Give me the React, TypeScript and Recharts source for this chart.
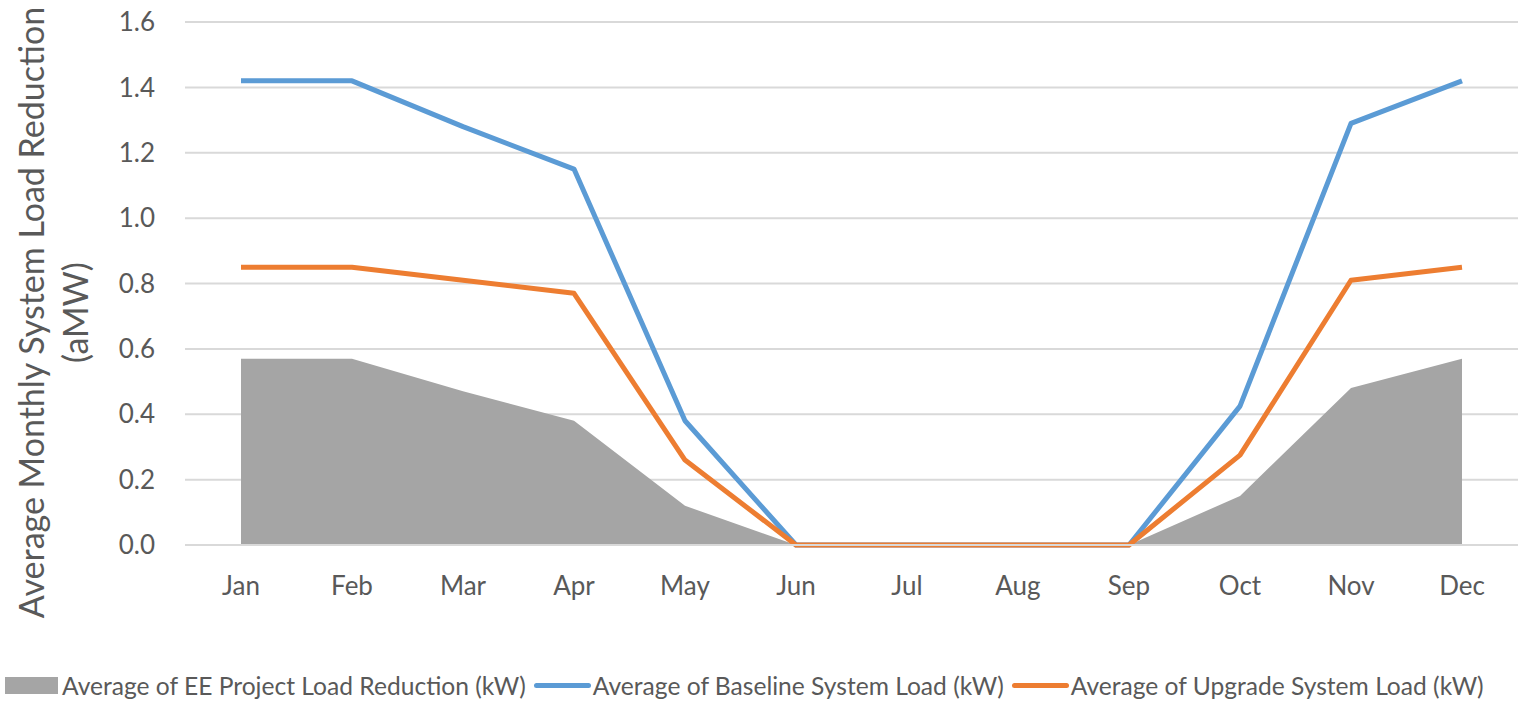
import { ComposedChart, Area, Line, XAxis, YAxis, CartesianGrid } from 'recharts'

const months = ['Jan', 'Feb', 'Mar', 'Apr', 'May', 'Jun', 'Jul', 'Aug', 'Sep', 'Oct', 'Nov', 'Dec']
const eeReduction = [0.57, 0.57, 0.47, 0.38, 0.12, 0, 0, 0, 0, 0.15, 0.48, 0.57]
const baselineLoad = [1.42, 1.42, 1.28, 1.15, 0.38, 0, 0, 0, 0, 0.425, 1.29, 1.42]
const upgradeLoad = [0.85, 0.85, 0.81, 0.77, 0.26, 0, 0, 0, 0, 0.275, 0.81, 0.85]
const yTicks = [0, 0.2, 0.4, 0.6, 0.8, 1.0, 1.2, 1.4, 1.6]

const data = months.map((m, i) => ({
  month: m,
  ee: eeReduction[i],
  baseline: baselineLoad[i],
  upgrade: upgradeLoad[i],
}))

const FONT = 'Lato, "Open Sans", sans-serif'
const TEXT = '#595959'

function YLabel(props: any) {
  const { viewBox } = props
  const cy = viewBox.y + viewBox.height / 2 + 29
  return (
    <g>
      <text
        x={30}
        y={cy}
        transform={`rotate(-90, 30, ${cy})`}
        textAnchor="middle"
        dominantBaseline="central"
        fill={TEXT}
        fontSize={34}
        fontFamily={FONT}
      >
        Average Monthly System Load Reduction
      </text>
      <text
        x={74}
        y={cy}
        transform={`rotate(-90, 74, ${cy})`}
        textAnchor="middle"
        dominantBaseline="central"
        fill={TEXT}
        fontSize={34}
        fontFamily={FONT}
      >
        (aMW)
      </text>
    </g>
  )
}

export default function App() {
  return (
    <div style={{ position: 'absolute', left: 0, top: 0, width: 1518, height: 701, background: 'white' }}>
      <ComposedChart width={1518} height={701} data={data} margin={{ top: 22, right: 0, left: 0, bottom: 0 }}>
        <CartesianGrid vertical={false} stroke="#d9d9d9" strokeWidth={2} />
        <XAxis
          dataKey="month"
          height={156}
          padding={{ left: 56, right: 56 }}
          tickSize={0}
          tickMargin={32}
          axisLine={{ stroke: '#d9d9d9', strokeWidth: 2 }}
          tickLine={false}
          tick={{ fill: TEXT, fontSize: 26, fontFamily: FONT }}
          interval={0}
        />
        <YAxis
          width={185}
          domain={[0, 1.6]}
          ticks={yTicks}
          tickFormatter={(v: number) => v.toFixed(1)}
          axisLine={false}
          tickLine={false}
          tickSize={0}
          tickMargin={30}
          tick={{ fill: TEXT, fontSize: 26, fontFamily: FONT }}
          label={<YLabel />}
        />
        <Area
          type="linear"
          dataKey="ee"
          fill="#a5a5a5"
          fillOpacity={1}
          stroke="none"
          isAnimationActive={false}
        />
        <Line
          type="linear"
          dataKey="baseline"
          stroke="#5b9bd5"
          strokeWidth={5}
          dot={false}
          strokeLinejoin="round"
          isAnimationActive={false}
        />
        <Line
          type="linear"
          dataKey="upgrade"
          stroke="#ed7d31"
          strokeWidth={5}
          dot={false}
          strokeLinejoin="round"
          isAnimationActive={false}
        />
      </ComposedChart>

      {/* Legend */}
      <div
        style={{
          position: 'absolute',
          left: 5,
          top: 671,
          display: 'flex',
          alignItems: 'center',
          fontFamily: FONT,
          fontSize: 24.6,
          color: TEXT,
          whiteSpace: 'nowrap',
        }}
      >
        <div style={{ width: 53, height: 17, background: '#a5a5a5', marginRight: 4 }} />
        <span style={{ marginRight: 8 }}>Average of EE Project Load Reduction (kW)</span>
        <div style={{ width: 57, height: 5, borderRadius: 3, background: '#5b9bd5', marginRight: 2 }} />
        <span style={{ marginRight: 8 }}>Average of Baseline System Load (kW)</span>
        <div style={{ width: 57, height: 5, borderRadius: 3, background: '#ed7d31', marginRight: 2 }} />
        <span>Average of Upgrade System Load (kW)</span>
      </div>
    </div>
  )
}
